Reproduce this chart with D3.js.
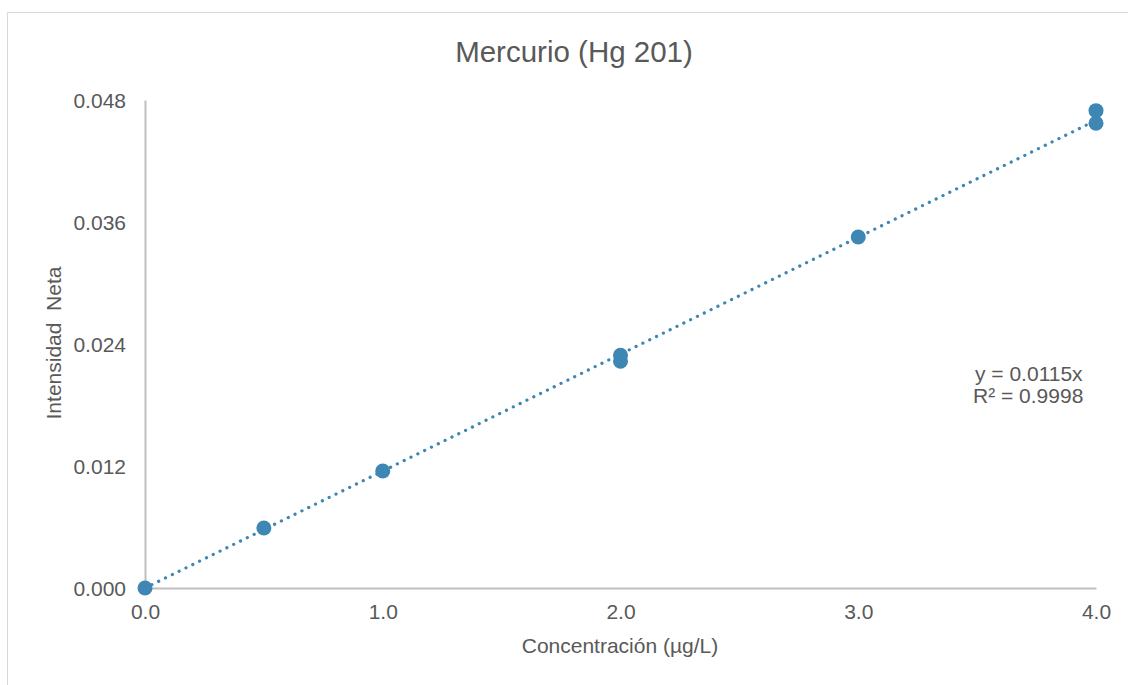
<!DOCTYPE html>
<html><head><meta charset="utf-8">
<script src="https://cdn.jsdelivr.net/npm/d3@7"></script>
<style>
html,body{margin:0;padding:0;background:#fff;}
svg{display:block;font-family:"Liberation Sans",Arial,sans-serif;}
</style></head>
<body>
<svg id="chart" width="1128" height="685"></svg>
<script>
const concentrations = [0, 0.5, 1.0, 2.0, 2.0, 3.0, 4.0, 4.0];
const intensities = [0.0000, 0.0059, 0.01151, 0.0229, 0.0223, 0.03452, 0.04695, 0.04571];
const xTicks = [0, 1, 2, 3, 4];
const yTicks = [0, 0.012, 0.024, 0.036, 0.048];
const slope = 0.0115;
const title = "Mercurio (Hg 201)";
const xLabel = "Concentración (µg/L)";
const yLabel = "Intensidad  Neta";
const eqLines = ["y = 0.0115x", "R² = 0.9998"];

const svg = d3.select("#chart");
const color = "#3e86b4";
const textColor = "#595959";
const axisColor = "#bfbfbf";

// outer border (chart area, cropped)
svg.append("path").attr("d","M7.5,685 V12.5 H1128").attr("fill","none").attr("stroke","#d9d9d9").attr("stroke-width",1);

const x = d3.scaleLinear().domain([0,4]).range([145,1096]);
const y = d3.scaleLinear().domain([0,0.048]).range([588,100]);

// axes
const xAxis = svg.append("g").attr("transform","translate(0,588)")
  .call(d3.axisBottom(x).tickValues(xTicks).tickFormat(d3.format(".1f")).tickSize(0).tickPadding(16));
const yAxis = svg.append("g").attr("transform","translate(145,0)")
  .call(d3.axisLeft(y).tickValues(yTicks).tickFormat(d3.format(".3f")).tickSize(0).tickPadding(19));
[xAxis,yAxis].forEach(g=>{
  g.select(".domain").attr("stroke",axisColor).attr("stroke-width",2);
  g.selectAll("text").attr("fill",textColor).attr("font-size","21px").attr("font-family","Liberation Sans, Arial, sans-serif");
});
xAxis.selectAll("text").attr("dy","0.71em");
yAxis.selectAll("text").attr("dy","0.35em");

// trendline
const line = d3.line().x(d=>x(d)).y(d=>y(slope*d));
svg.append("path").datum([0,4]).attr("d",line)
  .attr("fill","none").attr("stroke",color).attr("stroke-width",3.2)
  .attr("stroke-linecap","round").attr("stroke-dasharray","0.1 7.5");

// points
svg.append("g").selectAll("circle").data(concentrations.map((c,i)=>[c,intensities[i]]))
  .join("circle").attr("cx",d=>x(d[0])).attr("cy",d=>y(d[1])).attr("r",7.5).attr("fill",color);

// title
svg.append("text").attr("x",574).attr("y",62).attr("text-anchor","middle")
  .attr("fill",textColor).attr("font-size","29.5px").text(title);

// axis labels
svg.append("text").attr("x",620).attr("y",653).attr("text-anchor","middle")
  .attr("fill",textColor).attr("font-size","21px").text(xLabel);
svg.append("text").attr("transform","translate(61,343) rotate(-90)").attr("text-anchor","middle")
  .attr("fill",textColor).attr("font-size","21px").style("white-space","pre").attr("xml:space","preserve").text(yLabel);

// equation
svg.append("g").selectAll("text").data(eqLines).join("text")
  .attr("x",(d,i)=>i===0?975:973).attr("y",(d,i)=>381+i*22)
  .attr("fill",textColor).attr("font-size","21px").text(d=>d);
</script>
</body></html>
